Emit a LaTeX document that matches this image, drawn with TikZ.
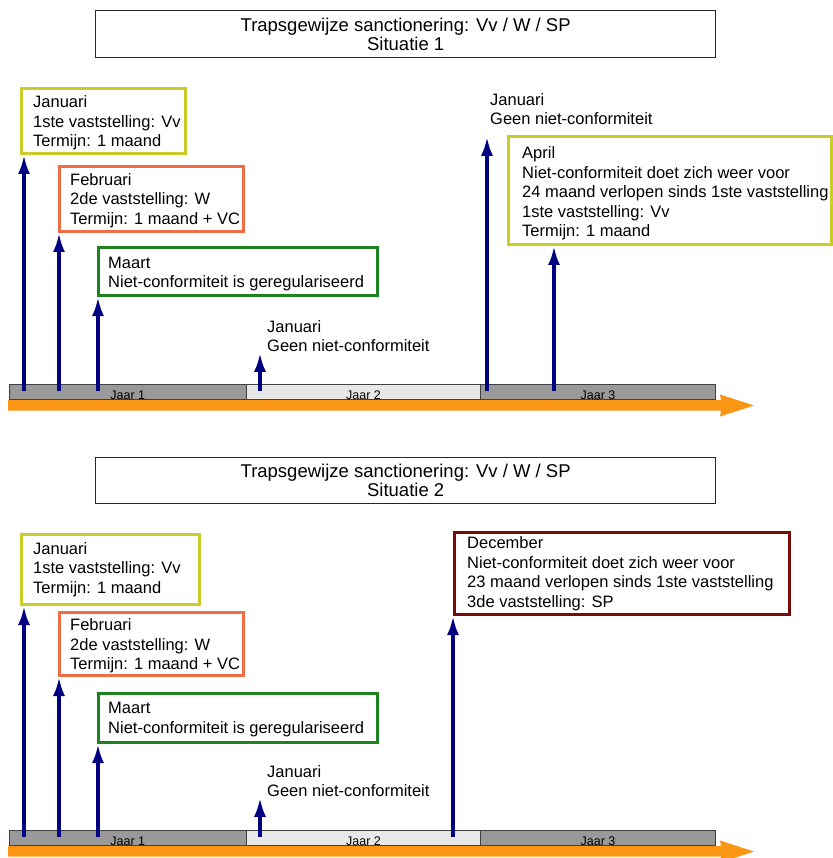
\documentclass[tikz,border=0pt]{standalone}
\usepackage{fontspec}
\setmainfont{Liberation Sans}
\usetikzlibrary{arrows.meta}
\definecolor{boxyellow}{RGB}{204,204,40}
\definecolor{boxorange}{RGB}{240,110,70}
\definecolor{boxgreen}{RGB}{30,130,30}
\definecolor{boxred}{RGB}{120,10,10}
\definecolor{navyblue}{RGB}{0,0,128}
\definecolor{tlorange}{RGB}{250,150,20}
\definecolor{bardark}{RGB}{153,153,153}
\definecolor{barlight}{RGB}{232,232,232}
\begin{document}
\begin{tikzpicture}[x=1pt,y=-1pt,
  evbox/.style={draw=#1, line width=3pt, anchor=north west, inner sep=0pt},
  boxtext/.style={anchor=west, align=left, inner sep=0pt, font=\fontsize{16.5}{19.5}\selectfont},
  freetext/.style={anchor=west, align=left, inner sep=1pt, font=\fontsize{16.5}{19}\selectfont},
  titlebox/.style={draw=black!85, line width=1.3pt, anchor=north west, inner sep=0pt, align=center, font=\fontsize{18.5}{19}\selectfont},
  yearseg/.style={draw=black!75, line width=1pt, anchor=north west, inner sep=0pt, minimum height=15pt},
  yearlbl/.style={font=\fontsize{12.5}{12.5}\selectfont, inner sep=0pt, anchor=base},
  evarrow/.style={draw=navyblue, line width=3.5pt, -{Latex[width=12pt,length=19pt]}},
  tlarrow/.style={fill=tlorange},
]
\useasboundingbox (0,0) rectangle (832,858);

% ---------------- Situatie 1 ----------------
\node[titlebox, minimum width=620pt, minimum height=47pt] (t1) at (95,10)
  {Trapsgewijze sanctionering: Vv / W / SP\\Situatie 1};

\node[yearseg, fill=bardark, minimum width=237.5pt] (b1a) at (8.5,384) {};
\node[yearseg, fill=barlight, minimum width=234pt] (b1b) at (246,384) {};
\node[yearseg, fill=bardark, minimum width=235pt] (b1c) at (480,384) {};
\node[yearlbl] (l1a) at ([yshift=1pt]b1a.south) {Jaar 1};
\node[yearlbl] (l1b) at ([yshift=1pt]b1b.south) {Jaar 2};
\node[yearlbl] (l1c) at ([yshift=1pt]b1c.south) {Jaar 3};
\fill[tlarrow] (8,400) -- (721,400) -- (720,394.5) -- (754,405.5) -- (720,416.5) -- (721,410.5) -- (8,410.5) -- cycle;

\node[evbox=boxyellow, minimum width=164pt, minimum height=65pt] (e1a) at (20,87) {};
\node[boxtext] (x1a) at ([xshift=13pt,yshift=-2pt]e1a.west) {Januari\\1ste vaststelling: Vv\\Termijn: 1 maand};
\node[evbox=boxorange, minimum width=184pt, minimum height=65pt] (e1b) at (58,165) {};
\node[boxtext] (x1b) at ([xshift=12pt,yshift=-1.5pt]e1b.west) {Februari\\2de vaststelling: W\\Termijn: 1 maand + VC};
\node[evbox=boxgreen, minimum width=279pt, minimum height=48pt] (e1c) at (97,246) {};
\node[boxtext] (x1c) at ([xshift=11pt,yshift=-2.5pt]e1c.west) {Maart\\Niet-conformiteit is geregulariseerd};
\node[evbox=boxyellow, minimum width=323pt, minimum height=108pt] (e1d) at (507,135) {};
\node[boxtext] (x1d) at ([xshift=15pt,yshift=-3pt]e1d.west) {April\\Niet-conformiteit doet zich weer voor\\24 maand verlopen sinds 1ste vaststelling\\1ste vaststelling: Vv\\Termijn: 1 maand};
\node[freetext] (f1) at (266,336) {Januari\\Geen niet-conformiteit};
\node[freetext] (f2) at (489,109) {Januari\\Geen niet-conformiteit};

\coordinate (p1a) at (24,391);
\coordinate (p1b) at (59,391);
\coordinate (p1c) at (98,391);
\coordinate (p1d) at (260,391);
\coordinate (p1e) at (487,391);
\coordinate (p1f) at (554,391);
\draw[evarrow] (p1a) -- (p1a |- e1a.south);
\draw[evarrow] (p1b) -- (p1b |- e1b.south);
\draw[evarrow] (p1c) -- (p1c |- e1c.south);
\draw[evarrow] (p1d) -- (p1d |- f1.south);
\draw[evarrow, shorten >=11pt] (p1e) -- (p1e |- f2.south);
\draw[evarrow] (p1f) -- (p1f |- e1d.south);

% ---------------- Situatie 2 ----------------
\node[titlebox, minimum width=620pt, minimum height=46pt] (t2) at (95,457)
  {Trapsgewijze sanctionering: Vv / W / SP\\Situatie 2};

\node[yearseg, fill=bardark, minimum width=237.5pt] (b2a) at (8.5,830) {};
\node[yearseg, fill=barlight, minimum width=234pt] (b2b) at (246,830) {};
\node[yearseg, fill=bardark, minimum width=235pt] (b2c) at (480,830) {};
\node[yearlbl] (l2a) at ([yshift=1pt]b2a.south) {Jaar 1};
\node[yearlbl] (l2b) at ([yshift=1pt]b2b.south) {Jaar 2};
\node[yearlbl] (l2c) at ([yshift=1pt]b2c.south) {Jaar 3};
\fill[tlarrow] (8,846) -- (721,846) -- (720,840.5) -- (754,851.5) -- (720,862.5) -- (721,856.5) -- (8,856.5) -- cycle;

\node[evbox=boxyellow, minimum width=178pt, minimum height=70pt] (e2a) at (20,533) {};
\node[boxtext] (x2a) at ([xshift=13pt,yshift=0pt]e2a.west) {Januari\\1ste vaststelling: Vv\\Termijn: 1 maand};
\node[evbox=boxorange, minimum width=184pt, minimum height=63pt] (e2b) at (58,611) {};
\node[boxtext] (x2b) at ([xshift=12pt,yshift=-2pt]e2b.west) {Februari\\2de vaststelling: W\\Termijn: 1 maand + VC};
\node[evbox=boxgreen, minimum width=279pt, minimum height=49pt] (e2c) at (97,692) {};
\node[boxtext] (x2c) at ([xshift=11pt,yshift=-1.5pt]e2c.west) {Maart\\Niet-conformiteit is geregulariseerd};
\node[evbox=boxred, minimum width=335pt, minimum height=82pt] (e2d) at (453,531) {};
\node[boxtext] (x2d) at ([xshift=14pt,yshift=0pt]e2d.west) {December\\Niet-conformiteit doet zich weer voor\\23 maand verlopen sinds 1ste vaststelling\\3de vaststelling: SP};
\node[freetext] (f3) at (266,781) {Januari\\Geen niet-conformiteit};

\coordinate (p2a) at (24,837);
\coordinate (p2b) at (59,837);
\coordinate (p2c) at (98,837);
\coordinate (p2d) at (260,837);
\coordinate (p2e) at (453,837);
\draw[evarrow] (p2a) -- (p2a |- e2a.south);
\draw[evarrow] (p2b) -- (p2b |- e2b.south);
\draw[evarrow] (p2c) -- (p2c |- e2c.south);
\draw[evarrow] (p2d) -- (p2d |- f3.south);
\draw[evarrow] (p2e) -- (p2e |- e2d.south);
\end{tikzpicture}
\end{document}
